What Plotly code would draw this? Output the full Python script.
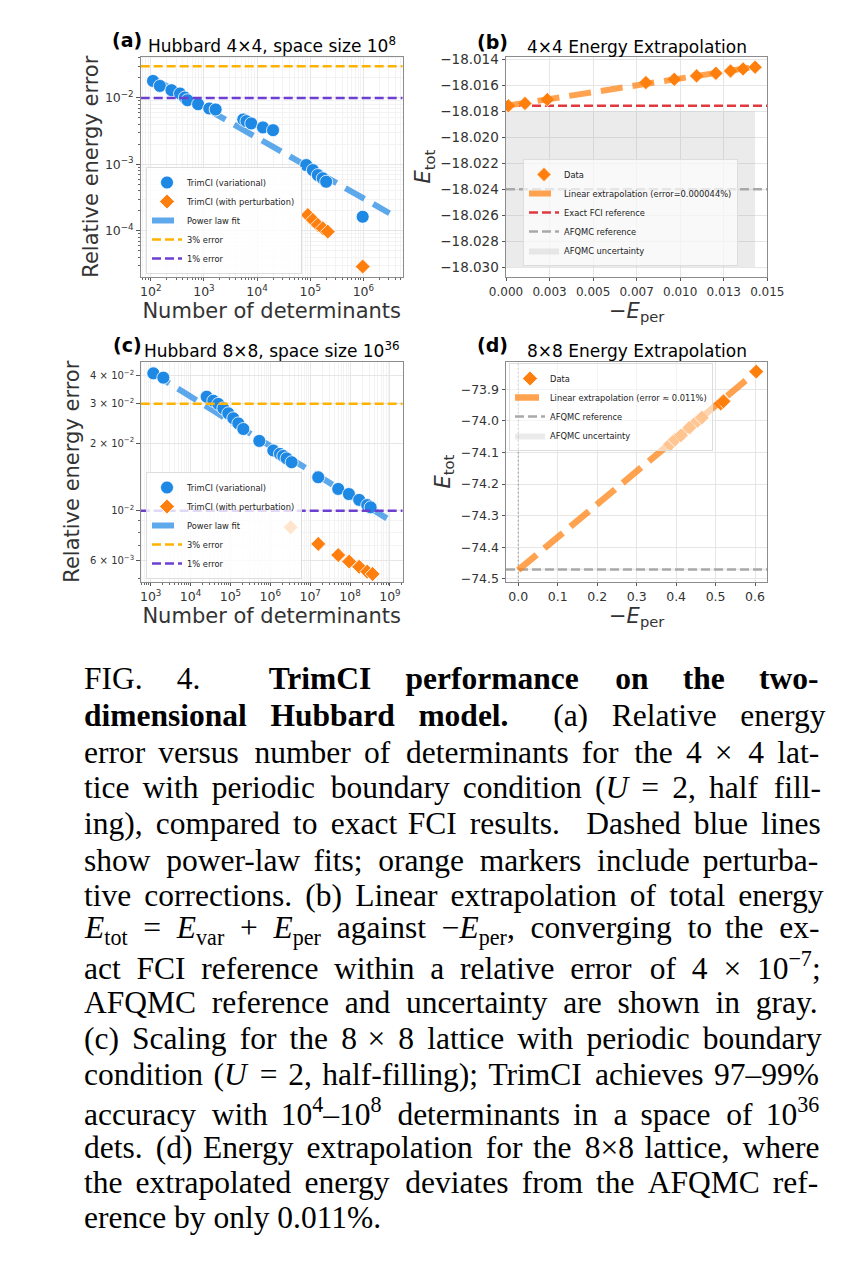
import re
import numpy as np
import plotly.graph_objects as go

W, H = 844, 1263
OFF = 8  # page body offset of the rendered figure
def px(x): return (x - OFF) / W
def py(y): return 1 - (y - OFF) / H

# ---------------- data ----------------
# (a) Hubbard 4x4
a_var_N = [110, 148, 245, 355, 437, 490, 776, 1259, 1660, 5495, 6310, 7762, 12882, 19953,
           84140, 111944, 139000, 172200, 199500, 970600]
a_var_err = [0.01799, 0.01514, 0.01306, 0.01164, 0.01014, 0.00923, 0.00804, 0.00693, 0.00670,
             0.00474, 0.00447, 0.00413, 0.00360, 0.00327,
             0.000977, 0.000820, 0.000690, 0.000617, 0.000548, 0.000163]
a_pert_N = [90157, 111944, 139000, 172200, 213800, 970600]
a_pert_err = [0.000173, 0.000146, 0.000123, 0.000109, 0.0000973, 0.0000290]
a_fit_N = [100, 3.1e6]
a_fit_err = [0.0206, 0.000184]

# (b) 4x4 extrapolation
b_x = [0.000134, 0.00109, 0.00237, 0.00803, 0.00966, 0.01094, 0.01205, 0.01289, 0.01361, 0.01430]
b_y = [-18.01758, -18.0174, -18.0171, -18.01579, -18.01554, -18.01528, -18.01508, -18.0149,
       -18.01474, -18.01461]
b_fit_x = [0.0, 0.01438]
b_fit_y = [-18.01758, -18.01456]
b_fci = -18.01757
b_afqmc = -18.0240
b_afqmc_unc = 0.006

# (c) Hubbard 8x8
c_var_N = [1167, 2080, 25350, 37240, 49660, 66370, 88510, 118000, 157800, 210400, 529700,
           1188000, 1746000, 2118000, 2564000, 3428000, 15920000, 50470000, 93540000,
           169400000, 269200000, 327300000]
c_var_err = [0.04093, 0.03917, 0.03221, 0.03090, 0.02992, 0.02858, 0.02716, 0.02582, 0.02449,
             0.02312, 0.02046, 0.01854, 0.01791, 0.01754, 0.01710, 0.01644, 0.01409, 0.01250,
             0.01186, 0.01117, 0.01059, 0.01035]
c_pert_N = [3240000, 15920000, 50470000, 95000000, 169400000, 269200000, 367000000]
c_pert_err = [0.00843, 0.00711, 0.00634, 0.00593, 0.00562, 0.00535, 0.00522]
c_fit_N = [1000, 9.06e8]
c_fit_err = [0.0416, 0.00916]

# (d) 8x8 extrapolation
d_x = [0.385, 0.397, 0.412, 0.434, 0.454, 0.465, 0.513, 0.520, 0.603]
d_y = [-74.074, -74.060, -74.046, -74.021, -74.000, -73.990, -73.945, -73.938, -73.844]
d_fit_x = [0.0, 0.607]
d_fit_y = [-74.4726, -73.840]
d_afqmc = -74.4705
d_afqmc_unc = 0.003

thresholds = [0.03, 0.01]
threshold_names = ["3% error", "1% error"]

# tick labels
a_xticks = [1e2, 1e3, 1e4, 1e5, 1e6]
a_xtext = ["10<sup>2</sup>", "10<sup>3</sup>", "10<sup>4</sup>", "10<sup>5</sup>", "10<sup>6</sup>"]
a_yticks = [1e-4, 1e-3, 1e-2]
a_ytext = ["10<sup>\u22124</sup>", "10<sup>\u22123</sup>", "10<sup>\u22122</sup>"]
c_xticks = [1e3, 1e4, 1e5, 1e6, 1e7, 1e8, 1e9]
c_xtext = ["10<sup>3</sup>", "10<sup>4</sup>", "10<sup>5</sup>", "10<sup>6</sup>",
           "10<sup>7</sup>", "10<sup>8</sup>", "10<sup>9</sup>"]
c_yticks = [0.006, 0.01, 0.02, 0.03, 0.04]
c_ytext = ["6 \u00d7 10<sup>\u22123</sup>", "10<sup>\u22122</sup>", "2 \u00d7 10<sup>\u22122</sup>",
           "3 \u00d7 10<sup>\u22122</sup>", "4 \u00d7 10<sup>\u22122</sup>"]
b_xticks = [0, 0.0025, 0.005, 0.0075, 0.01, 0.0125, 0.015]
b_xtext = ["0.000", "0.003", "0.005", "0.007", "0.010", "0.013", "0.015"]
b_yticks = [-18.030, -18.028, -18.026, -18.024, -18.022, -18.020, -18.018, -18.016, -18.014]
d_xticks = [0.0, 0.1, 0.2, 0.3, 0.4, 0.5, 0.6]
d_yticks = [-74.5, -74.4, -74.3, -74.2, -74.1, -74.0, -73.9]

# ---------------- style ----------------
BLUE = "#1E88E5"
ORANGE = "#FF7F0E"
FIT_BLUE = "rgba(40,140,230,0.75)"
FIT_ORANGE = "rgba(255,127,14,0.72)"
GOLD = "#FFB300"
PURPLE = "#6C3FD1"
RED = "#E0393E"
GRAY = "#A9A9A9"
TXT = "#333333"
FONT = "DejaVu Sans"

a_xr = [1.81, 6.74]
a_yr = [-4.69, -1.38]
c_xr = [2.75, 9.32]
c_yr = [-2.3166, -1.336]
b_xr = [0.0, 0.015]
b_yr = [-18.03074, -18.0138]
d_xr = [-0.031, 0.631]
d_yr = [-74.5095, -73.8126]

fig = go.Figure()

def minor_log(lo, hi):
    vals = []
    for e in range(int(np.floor(lo)), int(np.ceil(hi))):
        for m in range(2, 10):
            v = m * 10.0 ** e
            if lo <= np.log10(v) <= hi:
                vals.append(v)
    return vals

# ----- panel (a) -----
fig.add_trace(go.Scatter(x=a_fit_N, y=a_fit_err, mode="lines", name="Power law fit",
                         line=dict(color=FIT_BLUE, width=6, dash="22px,10px"),
                         xaxis="x", yaxis="y", legend="legend", legendrank=3))
fig.add_trace(go.Scatter(x=a_var_N, y=a_var_err, mode="markers", name="TrimCI (variational)",
                         marker=dict(color=BLUE, size=13, symbol="circle",
                                     line=dict(color="white", width=0.8)),
                         xaxis="x", yaxis="y", legend="legend", legendrank=1))
fig.add_trace(go.Scatter(x=a_pert_N, y=a_pert_err, mode="markers", name="TrimCI (with perturbation)",
                         marker=dict(color=ORANGE, size=11.5, symbol="diamond",
                                     line=dict(color="white", width=0.8)),
                         xaxis="x", yaxis="y", legend="legend", legendrank=2))
for i, (t, nm, col) in enumerate(zip(thresholds, threshold_names, [GOLD, PURPLE])):
    fig.add_trace(go.Scatter(x=[10 ** a_xr[0], 10 ** a_xr[1]], y=[t, t], mode="lines", name=nm,
                             line=dict(color=col, width=2.5, dash="9px,4px"),
                             xaxis="x", yaxis="y", legend="legend", legendrank=4 + i))

# ----- panel (b) -----
fig.add_trace(go.Scatter(x=[0, max(b_x), max(b_x), 0, 0],
                         y=[b_afqmc - b_afqmc_unc, b_afqmc - b_afqmc_unc, b_afqmc + b_afqmc_unc,
                            b_afqmc + b_afqmc_unc, b_afqmc - b_afqmc_unc],
                         mode="lines", fill="toself", fillcolor="rgba(128,128,128,0.16)",
                         line=dict(width=0), name="AFQMC uncertainty",
                         xaxis="x2", yaxis="y2", legend="legend2", legendrank=5))
fig.add_trace(go.Scatter(x=b_xr, y=[b_fci, b_fci], mode="lines", name="Exact FCI reference",
                         line=dict(color=RED, width=2.5, dash="9px,4px"),
                         xaxis="x2", yaxis="y2", legend="legend2", legendrank=3))
fig.add_trace(go.Scatter(x=b_xr, y=[b_afqmc, b_afqmc], mode="lines", name="AFQMC reference",
                         line=dict(color=GRAY, width=2.5, dash="9px,4px"),
                         xaxis="x2", yaxis="y2", legend="legend2", legendrank=4))
fig.add_trace(go.Scatter(x=b_x, y=b_y, mode="markers", name="Data",
                         marker=dict(color=ORANGE, size=11, symbol="diamond",
                                     line=dict(color="white", width=0.8)),
                         xaxis="x2", yaxis="y2", legend="legend2", legendrank=1))
fig.add_trace(go.Scatter(x=b_fit_x, y=b_fit_y, mode="lines",
                         name="Linear extrapolation (error=0.000044%)",
                         line=dict(color=FIT_ORANGE, width=6, dash="22px,10px"),
                         xaxis="x2", yaxis="y2", legend="legend2", legendrank=2))

# ----- panel (c) -----
fig.add_trace(go.Scatter(x=c_fit_N, y=c_fit_err, mode="lines", name="Power law fit",
                         line=dict(color=FIT_BLUE, width=6, dash="22px,10px"),
                         xaxis="x3", yaxis="y3", legend="legend3", legendrank=3))
fig.add_trace(go.Scatter(x=c_var_N, y=c_var_err, mode="markers", name="TrimCI (variational)",
                         marker=dict(color=BLUE, size=13, symbol="circle",
                                     line=dict(color="white", width=0.8)),
                         xaxis="x3", yaxis="y3", legend="legend3", legendrank=1))
fig.add_trace(go.Scatter(x=c_pert_N, y=c_pert_err, mode="markers", name="TrimCI (with perturbation)",
                         marker=dict(color=ORANGE, size=11.5, symbol="diamond",
                                     line=dict(color="white", width=0.8)),
                         xaxis="x3", yaxis="y3", legend="legend3", legendrank=2))
for i, (t, nm, col) in enumerate(zip(thresholds, threshold_names, [GOLD, PURPLE])):
    fig.add_trace(go.Scatter(x=[10 ** c_xr[0], 10 ** c_xr[1]], y=[t, t], mode="lines", name=nm,
                             line=dict(color=col, width=2.5, dash="9px,4px"),
                             xaxis="x3", yaxis="y3", legend="legend3", legendrank=4 + i))

# ----- panel (d) -----
fig.add_trace(go.Scatter(x=[d_xr[0], d_xr[1], d_xr[1], d_xr[0], d_xr[0]],
                         y=[d_afqmc - d_afqmc_unc, d_afqmc - d_afqmc_unc, d_afqmc + d_afqmc_unc,
                            d_afqmc + d_afqmc_unc, d_afqmc - d_afqmc_unc],
                         mode="lines", fill="toself", fillcolor="rgba(128,128,128,0.16)",
                         line=dict(width=0), name="AFQMC uncertainty",
                         xaxis="x4", yaxis="y4", legend="legend4", legendrank=4))
fig.add_trace(go.Scatter(x=d_xr, y=[d_afqmc, d_afqmc], mode="lines", name="AFQMC reference",
                         line=dict(color=GRAY, width=2.5, dash="9px,4px"),
                         xaxis="x4", yaxis="y4", legend="legend4", legendrank=3))
fig.add_trace(go.Scatter(x=[0, 0], y=d_yr, mode="lines", showlegend=False,
                         line=dict(color="#999999", width=1, dash="2px,2px"),
                         xaxis="x4", yaxis="y4", hoverinfo="skip"))
fig.add_trace(go.Scatter(x=d_x, y=d_y, mode="markers", name="Data",
                         marker=dict(color=ORANGE, size=11.5, symbol="diamond",
                                     line=dict(color="white", width=0.8)),
                         xaxis="x4", yaxis="y4", legend="legend4", legendrank=1))
fig.add_trace(go.Scatter(x=d_fit_x, y=d_fit_y, mode="lines",
                         name="Linear extrapolation (error \u2248 0.011%)",
                         line=dict(color=FIT_ORANGE, width=6.5, dash="24px,10px"),
                         xaxis="x4", yaxis="y4", legend="legend4", legendrank=2))

# ---------------- axes ----------------
def axis(domain, rng, anchor, title=None, standoff=4, tsize=12.5, **kw):
    d = dict(domain=domain, range=rng, anchor=anchor, automargin=False, showline=True, mirror=True,
             linecolor="#8c8c8c", linewidth=1, ticks="outside", ticklen=3.5, tickwidth=0.8,
             tickcolor="#555555", tickfont=dict(family=FONT, size=tsize, color=TXT),
             showgrid=True, gridcolor="#e6e6e6", gridwidth=0.8, zeroline=False)
    if title:
        d["title"] = dict(text=title, font=dict(family=FONT, size=21, color=TXT), standoff=standoff)
    d.update(kw)
    return d

LX = [px(140.7), px(402.7)]
RX = [px(506), px(767.3)]
TY = [py(276.7), py(56.7)]
BY = [py(581.7), py(361.7)]

def minor_cfg(vals):
    return dict(tickmode="array", tickvals=vals, ticks="outside", ticklen=2, tickwidth=0.6,
                tickcolor="#666666", showgrid=True, gridcolor="#f3f3f3", gridwidth=0.6)

fig.update_layout(
    xaxis=axis(LX, a_xr, "y", "Number of determinants", type="log", tickmode="array",
               tickvals=a_xticks, ticktext=a_xtext, minor=minor_cfg(minor_log(*a_xr))),
    yaxis=axis(TY, a_yr, "x", "Relative energy error", standoff=0, type="log", tickmode="array",
               tickvals=a_yticks, ticktext=a_ytext, minor=minor_cfg(minor_log(*a_yr))),
    xaxis2=axis(RX, b_xr, "y2", tsize=12, tickmode="array", tickvals=b_xticks, ticktext=b_xtext),
    yaxis2=axis(TY, b_yr, "x2", "<i>E</i><sub>tot</sub>", standoff=3, tsize=13.5, tickmode="array",
                tickvals=b_yticks, tickformat=".3f"),
    xaxis3=axis(LX, c_xr, "y3", "Number of determinants", type="log", tickmode="array",
                tickvals=c_xticks, ticktext=c_xtext, minor=minor_cfg(minor_log(*c_xr))),
    yaxis3=axis(BY, c_yr, "x3", "Relative energy error", type="log", tickmode="array",
                tickvals=c_yticks, ticktext=c_ytext, tsize=10,
                minor=minor_cfg([0.005, 0.007, 0.008, 0.009])),
    xaxis4=axis(RX, d_xr, "y4", tickmode="array", tickvals=d_xticks, tickformat=".1f"),
    yaxis4=axis(BY, d_yr, "x4", "<i>E</i><sub>tot</sub>", tickmode="array",
                tickvals=d_yticks, tickformat=".1f"),
)

def leg(x, y, xa, ya, alpha=0.8):
    return dict(x=x, y=y, xanchor=xa, yanchor=ya, xref="paper", yref="paper",
                bgcolor="rgba(255,255,255,%g)" % alpha, bordercolor="#dddddd", borderwidth=1,
                font=dict(family=FONT, size=8.3, color="#222222"), itemwidth=30,
                tracegroupgap=0)

fig.update_layout(
    legend=leg(px(146), py(274), "left", "bottom"),
    legend2=leg(px(523), py(266), "left", "bottom", 0.7),
    legend3=leg(px(146), py(579), "left", "bottom"),
    legend4=leg(px(509), py(363), "left", "top", 0.55),
)

# ---------------- titles & caption ----------------
ann = []
def text(x, y, s, size, color="black", family=FONT, xa="center", ya="middle", **kw):
    ann.append(dict(x=px(x), y=py(y), xref="paper", yref="paper", text=s, showarrow=False,
                    xanchor=xa, yanchor=ya, font=dict(family=family, size=size, color=color), **kw))

text(127, 40, "<b>(a)</b>", 19)
text(271.7, 45, "Hubbard 4\u00d74, space size 10<sup>8</sup>", 17)
text(492, 42, "<b>(b)</b>", 19)
text(636.7, 47, "4\u00d74 Energy Extrapolation", 17)
text(127, 345, "<b>(c)</b>", 19)
text(271.7, 350, "Hubbard 8\u00d78, space size 10<sup>36</sup>", 17)
text(492, 345, "<b>(d)</b>", 19)
text(636.7, 351, "8\u00d78 Energy Extrapolation", 17)
# x-axis titles with subscripts (b), (d)
text(636.7, 298, "\u2212<i>E</i><sub>per</sub>", 21, color=TXT, ya="top", borderpad=0)
text(636.7, 603, "\u2212<i>E</i><sub>per</sub>", 21, color=TXT, ya="top", borderpad=0)

caption_lines = [
    "FIG. 4.  <b>TrimCI performance on the two-</b>",
    "<b>dimensional Hubbard model.</b>  (a) Relative energy",
    "error versus number of determinants for the 4 \u00d7 4 lat-",
    "tice with periodic boundary condition (<i>U</i> = 2, half fill-",
    "ing), compared to exact FCI results.  Dashed blue lines",
    "show power-law fits; orange markers include perturba-",
    "tive corrections. (b) Linear extrapolation of total energy",
    "<i>E</i><sub>tot</sub> = <i>E</i><sub>var</sub> + <i>E</i><sub>per</sub> against \u2212<i>E</i><sub>per</sub>, converging to the ex-",
    "act FCI reference within a relative error of 4 \u00d7 10<sup>\u22127</sup>;",
    "AFQMC reference and uncertainty are shown in gray.",
    "(c) Scaling for the 8 \u00d7 8 lattice with periodic boundary",
    "condition (<i>U</i> = 2, half-filling); TrimCI achieves 97\u201399%",
    "accuracy with 10<sup>4</sup>\u201310<sup>8</sup> determinants in a space of 10<sup>36</sup>",
    "dets. (d) Energy extrapolation for the 8\u00d78 lattice, where",
    "the extrapolated energy deviates from the AFQMC ref-",
    "erence by only 0.011%.",
]
caption_y = [678, 715, 752, 787, 823, 860, 895, 930, 966, 1002, 1038, 1074, 1112, 1147, 1182, 1217]

# --- approximate Times / Liberation Serif advance widths (1/1000 em) for justification ---
ROMAN = {" ": 250, "%": 833, "(": 333, ")": 333, "+": 564, ",": 250, "-": 333, ".": 250, ";": 278,
         "=": 564, "\u00d7": 564, "\u2212": 564, "\u2013": 500, "A": 722, "C": 667, "D": 722,
         "E": 611, "F": 556, "G": 722, "I": 333, "M": 889, "Q": 722, "T": 611, "U": 722,
         "a": 444, "b": 500, "c": 444, "d": 500, "e": 444, "f": 333, "g": 500, "h": 500, "i": 278,
         "j": 278, "k": 500, "l": 278, "m": 778, "n": 500, "o": 500, "p": 500, "q": 500, "r": 333,
         "s": 389, "t": 278, "u": 500, "v": 500, "w": 722, "x": 500, "y": 500, "z": 444}
BOLD = {" ": 250, ".": 250, "-": 333, "C": 722, "H": 778, "I": 389, "T": 667, "a": 500, "b": 556,
        "c": 444, "d": 556, "e": 444, "f": 333, "h": 556, "i": 278, "l": 278, "m": 833, "n": 556,
        "o": 500, "p": 556, "r": 444, "s": 389, "t": 333, "u": 556, "w": 722}
ITAL = {"E": 611, "U": 722}

def line_width(s, size):
    total, bold, ital, scale = 0.0, False, False, 1.0
    for tok in re.split(r"(<[^>]+>)", s):
        if tok.startswith("<"):
            t = tok.strip("<>/")
            closing = tok.startswith("</")
            if t == "b": bold = not closing
            elif t == "i": ital = not closing
            elif t in ("sub", "sup"): scale = 1.0 if closing else 0.7
            continue
        for ch in tok:
            if ch.isdigit():
                w = 500
            elif ital and ch in ITAL:
                w = ITAL[ch]
            elif bold and ch in BOLD:
                w = BOLD[ch]
            else:
                w = ROMAN.get(ch, 500)
            total += w * scale
    return total / 1000.0 * size

NBSP, HAIR = "\u00a0", "\u200a"
def justify(s, size, target):
    extra = target - line_width(s, size)
    parts = s.split(" ")
    gaps = len(parts) - 1
    if extra <= 0 or gaps <= 0:
        return s
    nb_w, hair_w = 0.25 * size, size / 12.0
    out, acc_done = parts[0], 0.0
    for g in range(gaps):
        goal = extra * (g + 1) / gaps
        need = goal - acc_done
        k = int(need // nb_w)
        h = int(round((need - k * nb_w) / hair_w))
        acc_done += k * nb_w + h * hair_w
        out += " " + NBSP * k + HAIR * h + parts[g + 1]
    return out

CAP_SIZE = 31.5
CAP_LEFT, CAP_RIGHT = 82, 818
for idx, (s, yy) in enumerate(zip(caption_lines, caption_y)):
    if idx < len(caption_lines) - 1:
        s = justify(s, CAP_SIZE, CAP_RIGHT - CAP_LEFT)
    text(CAP_LEFT, yy, s, CAP_SIZE, family="Liberation Serif", xa="left")

fig.update_layout(annotations=ann, width=W, height=H, autosize=False,
                  margin=dict(l=0, r=0, t=0, b=0, pad=0), paper_bgcolor="white", plot_bgcolor="white",
                  font=dict(family=FONT, color=TXT))

fig.write_html("out.html")
